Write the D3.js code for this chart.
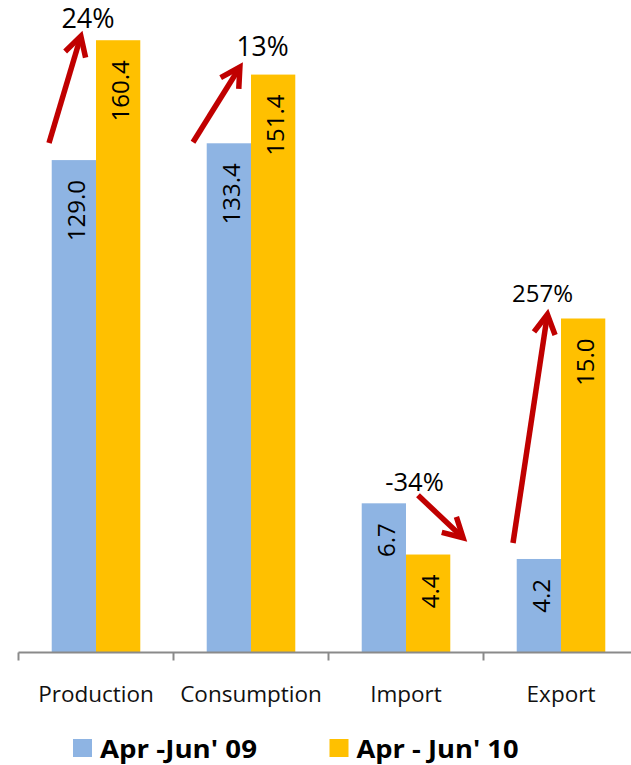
<!DOCTYPE html>
<html>
<head>
<meta charset="utf-8">
<script src="https://cdn.jsdelivr.net/npm/d3@7"></script>
<style>
  html, body { margin: 0; padding: 0; background: #fff; }
  svg { display: block; }
</style>
</head>
<body>
<svg id="chart" width="631" height="765"></svg>
<script>
// ---- data ----
const categories = ["Production", "Consumption", "Import", "Export"];
const seriesNames = ["Apr -Jun' 09", "Apr - Jun' 10"];
const values09 = [129.0, 133.4, 6.7, 4.2];
const values10 = [160.4, 151.4, 4.4, 15.0];
// Production/Consumption sit on the primary axis, Import/Export on the secondary one
const axisOf = ["primary", "primary", "secondary", "secondary"];
const primaryDomain = [0, 175];
const secondaryDomain = [0, 30];

// ---- layout ----
const W = 631, H = 765;
const baseline = 652.5;
const plotHeight = 668;
const xStart = 18.5, bandStep = 155;
const colors = ["#8EB4E3", "#FFC000"];
const arrowColor = "#C00000";

// arrow start: offset from (band start, top of first bar); arrow end: offset from (band start, top of second bar)
const arrowStartOffset = [[30.5, -17], [19.5, -1], [89.5, -8], [29.5, -16]];
const arrowEndOffset = [[63.5, -8], [68.5, -11], [137.5, -14], [64.5, -8]];
// change label: offset from (band start, top of the taller bar)
const changeLabelOffset = [[69.5, -12], [89, -19], [86, -12], [59, -17]];
const changeFontSize = [27, 26.5, 25.5, 24];

const svg = d3.select("#chart");

const x = d3.scaleBand()
  .domain(categories)
  .range([xStart, xStart + bandStep * categories.length])
  .paddingInner(0).paddingOuter(0);

const xs = d3.scaleBand()
  .domain([0, 1])
  .range([0, x.bandwidth()])
  .paddingInner(0).paddingOuter(0.75);

const yPrimary = d3.scaleLinear().domain(primaryDomain).range([baseline, baseline - plotHeight]);
const ySecondary = d3.scaleLinear().domain(secondaryDomain).range([baseline, baseline - plotHeight]);
const yFor = i => axisOf[i] === "primary" ? yPrimary : ySecondary;

const rows = categories.map((c, i) => ({
  cat: c, i, vals: [values09[i], values10[i]]
}));

// ---- bars ----
const groups = svg.append("g").selectAll("g")
  .data(rows).join("g")
  .attr("transform", d => `translate(${x(d.cat)},0)`);

groups.selectAll("rect")
  .data(d => d.vals.map((v, s) => ({ v, s, i: d.i })))
  .join("rect")
  .attr("x", d => xs(d.s))
  .attr("width", xs.bandwidth())
  .attr("y", d => yFor(d.i)(d.v))
  .attr("height", d => baseline - yFor(d.i)(d.v))
  .attr("fill", d => colors[d.s]);

// value labels, rotated inside the bar end
groups.selectAll("text.val")
  .data(d => d.vals.map((v, s) => ({ v, s, i: d.i })))
  .join("text")
  .attr("class", "val")
  .attr("transform", d => {
    const cx = xs(d.s) + xs.bandwidth() / 2 + 11;
    const cy = yFor(d.i)(d.v) + 20;
    return `translate(${cx},${cy}) rotate(-90)`;
  })
  .attr("text-anchor", "end")
  .attr("font-family", "'Open Sans', sans-serif")
  .attr("font-size", 24)
  .attr("fill", "#000")
  .text(d => d.v.toFixed(1));

// ---- category axis ----
const axisG = svg.append("g").attr("transform", `translate(0,${baseline})`);
axisG.call(d3.axisBottom(x).tickSize(0).tickPadding(34));
axisG.select(".domain").remove();
axisG.append("line")
  .attr("x1", xStart).attr("x2", xStart + bandStep * categories.length)
  .attr("y1", 0).attr("y2", 0)
  .attr("stroke", "#8A8A8A").attr("stroke-width", 2);
axisG.selectAll(".boundary")
  .data(d3.range(categories.length + 1))
  .join("line")
  .attr("class", "boundary")
  .attr("x1", k => xStart + k * bandStep).attr("x2", k => xStart + k * bandStep)
  .attr("y1", 0).attr("y2", 8)
  .attr("stroke", "#8A8A8A").attr("stroke-width", 2);
axisG.selectAll(".tick text")
  .attr("font-family", "'Open Sans', sans-serif")
  .attr("font-size", 22.5)
  .attr("fill", "#111");

// ---- change arrows ----
const arrows = svg.append("g");
rows.forEach(d => {
  const i = d.i, bx = x(d.cat), y = yFor(i);
  const x1 = bx + arrowStartOffset[i][0], y1 = y(values09[i]) + arrowStartOffset[i][1];
  let x2 = bx + arrowEndOffset[i][0], y2 = y(values10[i]) + arrowEndOffset[i][1];
  const len = Math.hypot(x2 - x1, y2 - y1);
  const ux = (x2 - x1) / len, uy = (y2 - y1) / len;
  // pull the geometric tip back so the mitred point lands on the anchor
  x2 -= ux * 4; y2 -= uy * 4;
  const ang = Math.atan2(y2 - y1, x2 - x1);
  const headLen = 22, headAng = 29 * Math.PI / 180;
  const hx1 = x2 - headLen * Math.cos(ang - headAng), hy1 = y2 - headLen * Math.sin(ang - headAng);
  const hx2 = x2 - headLen * Math.cos(ang + headAng), hy2 = y2 - headLen * Math.sin(ang + headAng);
  arrows.append("line")
    .attr("x1", x1).attr("y1", y1).attr("x2", x2 - ux * 2).attr("y2", y2 - uy * 2)
    .attr("stroke", arrowColor).attr("stroke-width", 5.5);
  arrows.append("path")
    .attr("d", d3.line()([[hx1, hy1], [x2, y2], [hx2, hy2]]))
    .attr("fill", "none")
    .attr("stroke", arrowColor).attr("stroke-width", 5.5)
    .attr("stroke-linejoin", "miter").attr("stroke-miterlimit", 10);

  const change = Math.round((values10[i] / values09[i] - 1) * 100);
  const topY = Math.min(y(values09[i]), y(values10[i]));
  arrows.append("text")
    .attr("x", bx + changeLabelOffset[i][0])
    .attr("y", topY + changeLabelOffset[i][1])
    .attr("text-anchor", "middle")
    .attr("font-family", "'Open Sans', sans-serif")
    .attr("font-size", changeFontSize[i])
    .attr("fill", "#000")
    .text(change + "%");
});

// ---- legend ----
const legendItems = [
  { x: 73, textLen: 157 },
  { x: 329.5, textLen: 162 }
];
const legend = svg.append("g");
seriesNames.forEach((name, s) => {
  const it = legendItems[s];
  legend.append("rect")
    .attr("x", it.x).attr("y", 739).attr("width", 19).attr("height", 18)
    .attr("fill", colors[s]);
  legend.append("text")
    .attr("x", it.x + 27).attr("y", 757.5)
    .attr("font-family", "'Open Sans', sans-serif")
    .attr("font-weight", 700)
    .attr("font-size", 25)
    .attr("textLength", it.textLen)
    .attr("lengthAdjust", "spacingAndGlyphs")
    .attr("fill", "#000")
    .text(name);
});
</script>
</body>
</html>
